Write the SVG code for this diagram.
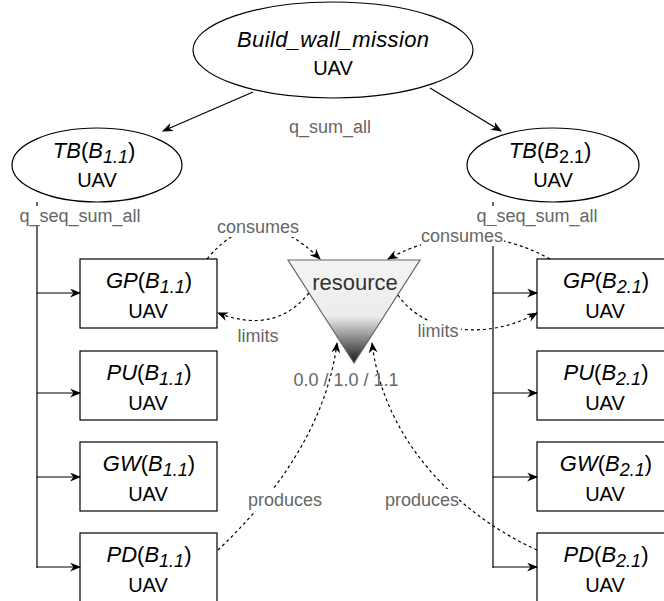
<svg xmlns="http://www.w3.org/2000/svg" width="664" height="601" viewBox="0 0 664 601">
<defs>
<style>
.node{fill:#fff;stroke:#000;stroke-width:1.2}
.t{font-family:"Liberation Sans",Arial,sans-serif;font-size:20px;fill:#000;text-anchor:middle}
.h{font-size:22px}
.s{font-size:18px}
.i{font-style:italic}
.lbl{font-family:"Liberation Sans",Arial,sans-serif;font-size:18px;fill:#666;text-anchor:middle}
.edge{fill:none;stroke:#000;stroke-width:1.2}
.dash{fill:none;stroke:#000;stroke-width:1.2;stroke-dasharray:3 3}
.bg{fill:#fff}
</style>
<marker id="arr" viewBox="0 0 10 8" refX="9" refY="4" markerWidth="11" markerHeight="9" markerUnits="userSpaceOnUse" orient="auto">
<path d="M0,0 L10,4 L0,8 L3,4 z" fill="#000"/>
</marker>
<linearGradient id="grad" x1="0" y1="0" x2="0" y2="1">
<stop offset="0" stop-color="#f4f4f4"/>
<stop offset="0.55" stop-color="#ececec"/>
<stop offset="1" stop-color="#1a1a1a"/>
</linearGradient>
</defs>

<g id="build_wall_mission">
<ellipse class="node" cx="333" cy="50" rx="140" ry="48"/>
<text class="t h i" x="333" y="47" textLength="192">Build_wall_mission</text>
<text class="t" x="333" y="75">UAV</text>
</g>

<g id="tb1">
<ellipse class="node" cx="97" cy="165" rx="85" ry="37"/>
<text class="t h" x="94" y="158"><tspan class="i">TB</tspan>(<tspan class="i">B</tspan><tspan class="i s" dy="5">1.1</tspan><tspan dy="-5">)</tspan></text>
<text class="t" x="97" y="187">UAV</text>
</g>

<g id="tb2">
<ellipse class="node" cx="553" cy="165" rx="86" ry="37"/>
<text class="t h" x="550" y="158"><tspan class="i">TB</tspan>(<tspan class="i">B</tspan><tspan class="s" dy="5">2.1</tspan><tspan dy="-5">)</tspan></text>
<text class="t" x="553" y="187">UAV</text>
</g>

<g id="resource">
<polygon points="288,260 420,260 354,363" fill="url(#grad)" stroke="#666" stroke-width="1.2"/>
<text x="355" y="290" font-family="Liberation Sans, Arial, sans-serif" font-size="22" fill="#333" text-anchor="middle">resource</text>
</g>

<g id="gp1">
<rect class="node" x="80" y="259" width="137" height="69"/>
<text class="t h" x="149" y="288"><tspan class="i">GP</tspan>(<tspan class="i">B</tspan><tspan class="i s" dy="5">1.1</tspan><tspan dy="-5">)</tspan></text>
<text class="t" x="148" y="318">UAV</text>
</g>
<g id="pu1">
<rect class="node" x="80" y="351" width="137" height="69"/>
<text class="t h" x="149" y="380"><tspan class="i">PU</tspan>(<tspan class="i">B</tspan><tspan class="i s" dy="5">1.1</tspan><tspan dy="-5">)</tspan></text>
<text class="t" x="148" y="410">UAV</text>
</g>
<g id="gw1">
<rect class="node" x="80" y="442" width="137" height="69"/>
<text class="t h" x="149" y="471"><tspan class="i">GW</tspan>(<tspan class="i">B</tspan><tspan class="i s" dy="5">1.1</tspan><tspan dy="-5">)</tspan></text>
<text class="t" x="148" y="501">UAV</text>
</g>
<g id="pd1">
<rect class="node" x="80" y="533" width="137" height="69"/>
<text class="t h" x="149" y="562"><tspan class="i">PD</tspan>(<tspan class="i">B</tspan><tspan class="i s" dy="5">1.1</tspan><tspan dy="-5">)</tspan></text>
<text class="t" x="148" y="592">UAV</text>
</g>

<g id="gp2">
<rect class="node" x="537" y="259" width="137" height="69"/>
<text class="t h" x="606" y="288"><tspan class="i">GP</tspan>(<tspan class="i">B</tspan><tspan class="i s" dy="5">2.1</tspan><tspan dy="-5">)</tspan></text>
<text class="t" x="605" y="318">UAV</text>
</g>
<g id="pu2">
<rect class="node" x="537" y="351" width="137" height="69"/>
<text class="t h" x="606" y="380"><tspan class="i">PU</tspan>(<tspan class="i">B</tspan><tspan class="i s" dy="5">2.1</tspan><tspan dy="-5">)</tspan></text>
<text class="t" x="605" y="410">UAV</text>
</g>
<g id="gw2">
<rect class="node" x="537" y="442" width="137" height="69"/>
<text class="t h" x="606" y="471"><tspan class="i">GW</tspan>(<tspan class="i">B</tspan><tspan class="i s" dy="5">2.1</tspan><tspan dy="-5">)</tspan></text>
<text class="t" x="605" y="501">UAV</text>
</g>
<g id="pd2">
<rect class="node" x="537" y="533" width="137" height="69"/>
<text class="t h" x="606" y="562"><tspan class="i">PD</tspan>(<tspan class="i">B</tspan><tspan class="i s" dy="5">2.1</tspan><tspan dy="-5">)</tspan></text>
<text class="t" x="605" y="592">UAV</text>
</g>

<g id="connectors">
<line class="edge" x1="253" y1="92" x2="163" y2="131" marker-end="url(#arr)"/>
<line class="edge" x1="430" y1="88" x2="501" y2="131" marker-end="url(#arr)"/>
<polyline class="edge" points="37,202 37,568"/>
<line class="edge" x1="37" y1="293" x2="80" y2="293" marker-end="url(#arr)"/>
<line class="edge" x1="37" y1="393" x2="80" y2="393" marker-end="url(#arr)"/>
<line class="edge" x1="37" y1="477" x2="80" y2="477" marker-end="url(#arr)"/>
<line class="edge" x1="37" y1="567" x2="80" y2="567" marker-end="url(#arr)"/>
<polyline class="edge" points="493,202 493,568"/>
<line class="edge" x1="493" y1="293" x2="537" y2="293" marker-end="url(#arr)"/>
<line class="edge" x1="493" y1="393" x2="537" y2="393" marker-end="url(#arr)"/>
<line class="edge" x1="493" y1="477" x2="537" y2="477" marker-end="url(#arr)"/>
<line class="edge" x1="493" y1="567" x2="537" y2="567" marker-end="url(#arr)"/>
<path class="dash" d="M207,259 Q258,197 320,259" marker-end="url(#arr)"/>
<path class="dash" d="M550,259 Q469,215 388,259" marker-end="url(#arr)"/>
<path class="dash" d="M309,293 Q275,335 218,313" marker-end="url(#arr)"/>
<path class="dash" d="M398,295 C425,335 490,340 537,313" marker-end="url(#arr)"/>
<path class="dash" d="M218,550 C255,515 325,440 337,343" marker-end="url(#arr)"/>
<path class="dash" d="M537,550 C470,520 385,450 372,343" marker-end="url(#arr)"/>
<text class="lbl" x="330" y="133">q_sum_all</text>
<rect class="bg" x="14" y="206" width="132" height="20"/>
<text class="lbl" x="80" y="222">q_seq_sum_all</text>
<rect class="bg" x="470" y="206" width="134" height="20"/>
<text class="lbl" x="537" y="222">q_seq_sum_all</text>
<rect class="bg" x="217" y="217" width="83" height="20"/>
<text class="lbl" x="258" y="233">consumes</text>
<rect class="bg" x="421" y="226" width="83" height="20"/>
<text class="lbl" x="462" y="242">consumes</text>
<rect class="bg" x="236" y="326" width="45" height="20"/>
<text class="lbl" x="258" y="342">limits</text>
<rect class="bg" x="415" y="321" width="46" height="20"/>
<text class="lbl" x="438" y="337">limits</text>
<rect class="bg" x="248" y="489" width="74" height="22"/>
<text class="lbl" x="285" y="506">produces</text>
<rect class="bg" x="385" y="489" width="74" height="22"/>
<text class="lbl" x="422" y="506">produces</text>
<text class="lbl" x="346" y="386">0.0 / 1.0 / 1.1</text>
</g>
</svg>
